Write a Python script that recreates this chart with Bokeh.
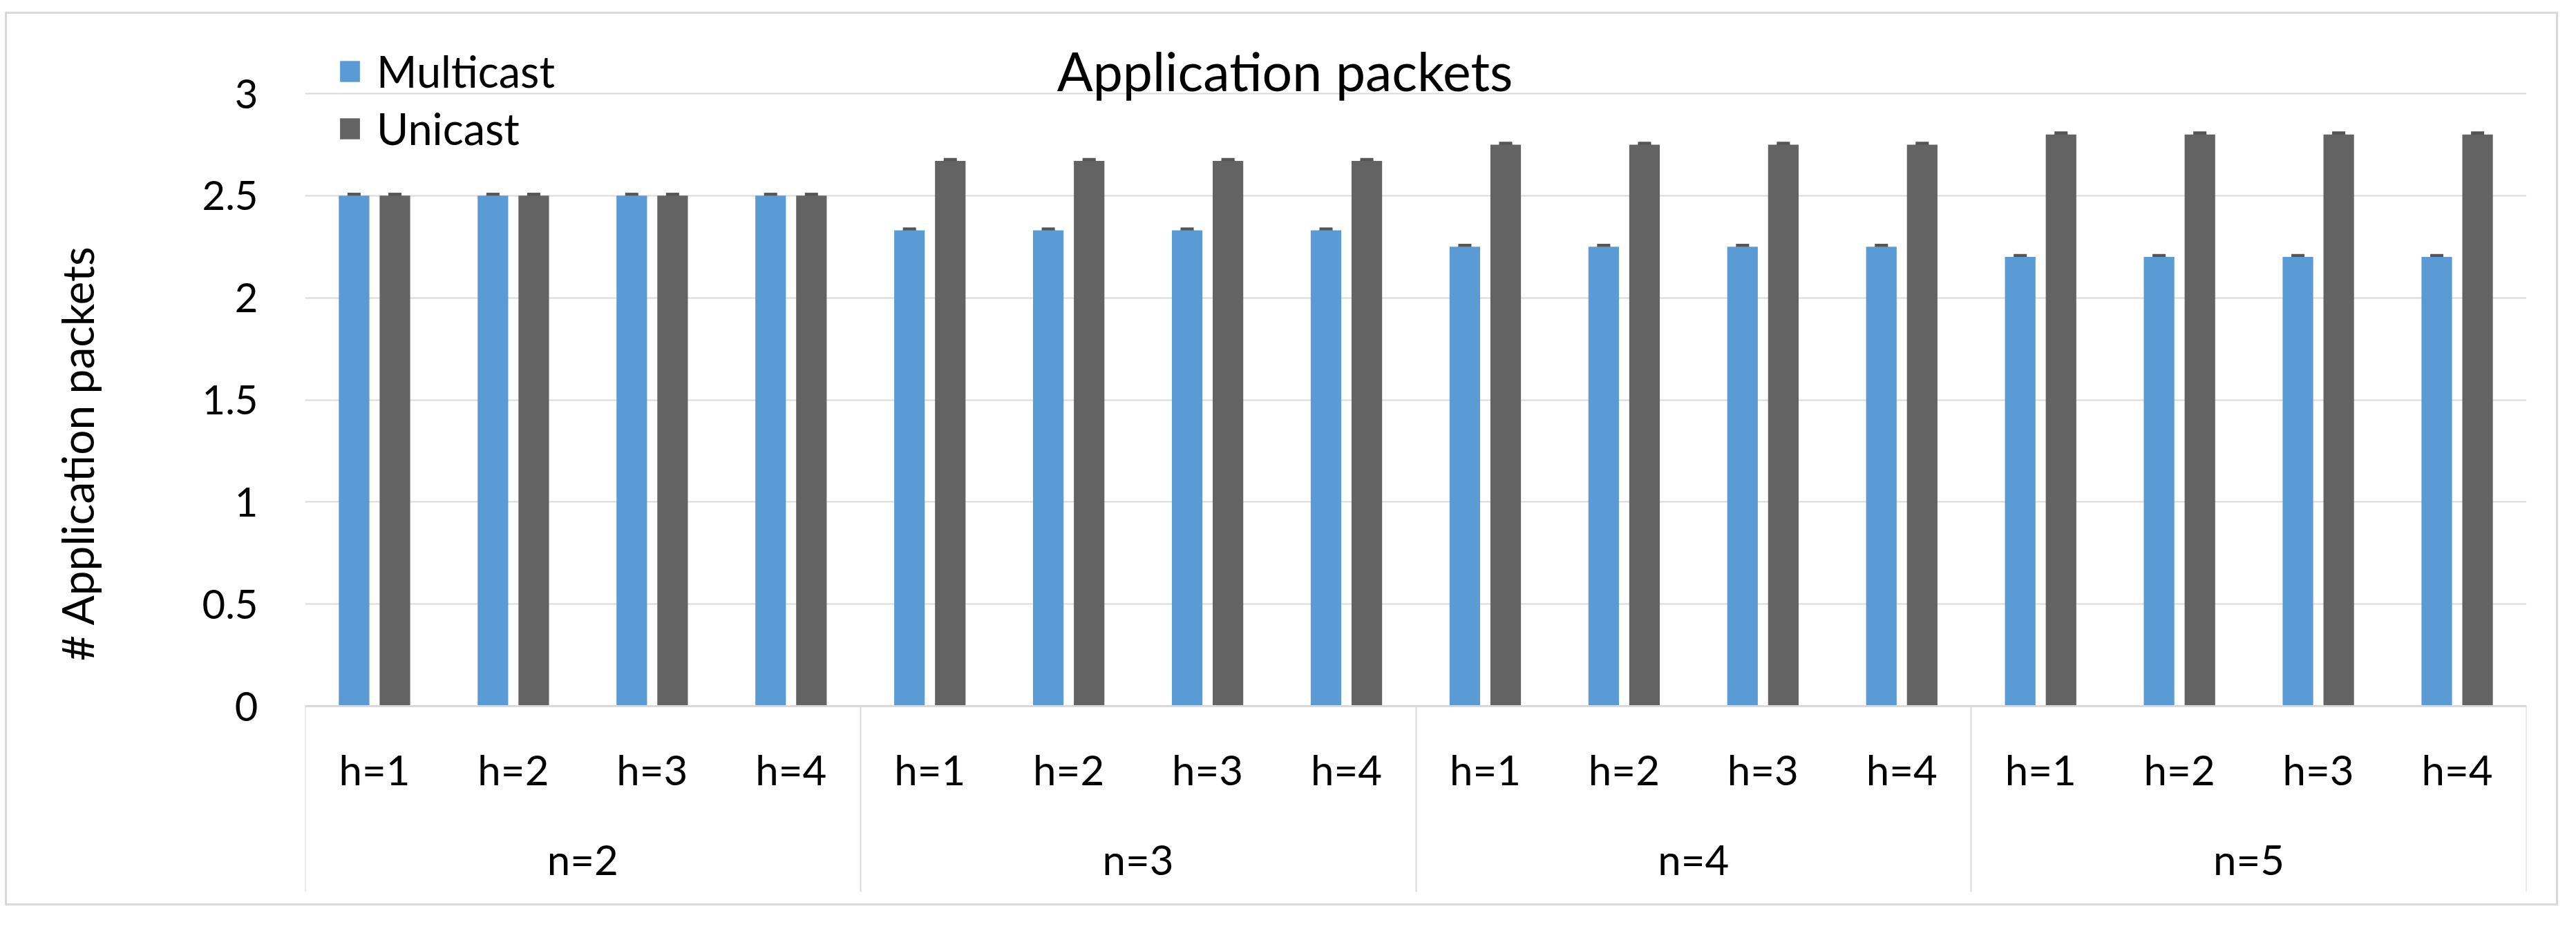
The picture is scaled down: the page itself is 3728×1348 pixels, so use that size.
from bokeh.plotting import figure
from bokeh.models import (ColumnDataSource, FactorRange, Legend, LegendItem, Label,
                          FixedTicker, NumeralTickFormatter, Whisker, TeeHead,
                          LinearAxis)
from bokeh.transform import dodge
from bokeh.embed import file_html
from bokeh.resources import INLINE

# ---- data ----
groups = ["n=2", "n=3", "n=4", "n=5"]
hops = ["h=1", "h=2", "h=3", "h=4"]
multicast = [2.50, 2.50, 2.50, 2.50,
             2.33, 2.33, 2.33, 2.33,
             2.25, 2.25, 2.25, 2.25,
             2.20, 2.20, 2.20, 2.20]
unicast = [2.50, 2.50, 2.50, 2.50,
           2.67, 2.67, 2.67, 2.67,
           2.75, 2.75, 2.75, 2.75,
           2.80, 2.80, 2.80, 2.80]
multicast_err = [0.006, 0.006, 0.006, 0.006, 0.006, 0.006, 0.006, 0.006,
                 0.006, 0.006, 0.006, 0.006, 0.006, 0.006, 0.006, 0.006]
unicast_err = [0.006, 0.006, 0.006, 0.006, 0.006, 0.006, 0.006, 0.006,
               0.006, 0.006, 0.006, 0.006, 0.006, 0.006, 0.006, 0.006]
y_ticks = [0, 0.5, 1, 1.5, 2, 2.5, 3]
title_text = "Application packets"
y_title = "# Application packets"
series_names = ["Multicast", "Unicast"]
colors = ["#5B9BD5", "#636363"]

FONT = "Lato"
GRID = "#D9D9D9"

factors = [(g, h) for g in groups for h in hops]
group_bounds = [i * len(hops) for i in range(len(groups) + 1)]

src = ColumnDataSource(dict(
    x=factors,
    multicast=multicast,
    unicast=unicast,
    m_up=[v + e for v, e in zip(multicast, multicast_err)],
    m_lo=[v - e for v, e in zip(multicast, multicast_err)],
    u_up=[v + e for v, e in zip(unicast, unicast_err)],
    u_lo=[v - e for v, e in zip(unicast, unicast_err)],
))

x_range = FactorRange(factors=factors, range_padding=0, group_padding=0,
                      subgroup_padding=0, factor_padding=0)

# the plot area continues below zero so that the category axis (fixed at y=0)
# with its group labels and dividers sits inside it, as in the reference
p = figure(x_range=x_range, y_range=(-0.9098, 3.389),
           frame_width=3215, frame_height=1271,
           min_border_left=431, min_border_right=43,
           min_border_top=0, min_border_bottom=17,
           output_backend="svg", toolbar_location=None)
p.styles = {"border": "3px solid #D9D9D9", "margin-top": "17px", "margin-left": "7px"}
p.outline_line_color = None
p.background_fill_color = "white"
p.border_fill_color = "white"

OFF = 0.147
W = 0.22
r1 = p.vbar(x=dodge("x", -OFF, range=p.x_range), top="multicast", width=W,
            source=src, fill_color=colors[0], line_color=None)
r2 = p.vbar(x=dodge("x", OFF, range=p.x_range), top="unicast", width=W,
            source=src, fill_color=colors[1], line_color=None)

for dx, up, lo in [(-OFF, "m_up", "m_lo"), (OFF, "u_up", "u_lo")]:
    wk = Whisker(source=src, base=dodge("x", dx, range=p.x_range), upper=up, lower=lo,
                 line_color="#555555", line_width=5,
                 upper_head=TeeHead(size=19, line_color="#555555", line_width=5),
                 lower_head=TeeHead(size=19, line_color="#555555", line_width=5))
    p.add_layout(wk)

# y axis
p.yaxis.ticker = FixedTicker(ticks=y_ticks)
p.yaxis.formatter = NumeralTickFormatter(format="0.[0]")
p.yaxis.axis_line_color = None
p.yaxis.major_tick_line_color = None
p.yaxis.minor_tick_line_color = None
p.yaxis.major_tick_out = 0
p.yaxis.major_label_standoff = 68
p.yaxis.major_label_text_font = FONT
p.yaxis.major_label_text_font_size = "58px"
p.yaxis.major_label_text_color = "black"
p.yaxis.axis_label = y_title
p.yaxis.axis_label_text_font = FONT
p.yaxis.axis_label_text_font_size = "64px"
p.yaxis.axis_label_text_font_style = "normal"
p.yaxis.axis_label_text_color = "black"
p.yaxis.axis_label_standoff = 140

p.ygrid.grid_line_color = GRID
p.ygrid.grid_line_width = 2
p.xgrid.grid_line_color = None

# x axis (categories), drawn at y = 0
xa = p.xaxis[0]
xa.fixed_location = 0
xa.axis_line_color = GRID
xa.axis_line_width = 3
xa.major_tick_line_color = None
xa.major_tick_out = 0
xa.minor_tick_line_color = None
xa.major_label_standoff = 55
xa.major_label_text_font = FONT
xa.major_label_text_font_size = "60px"
xa.major_label_text_color = "black"
xa.major_label_orientation = "horizontal"
xa.group_text_font = FONT
xa.group_text_font_size = "60px"
xa.group_text_font_style = "normal"
xa.group_text_color = "black"
xa.group_label_orientation = "horizontal"
xa.separator_line_color = None

# group divider lines (ticks at the group boundaries, incl. both ends)
div_axis = LinearAxis(ticker=FixedTicker(ticks=group_bounds), fixed_location=0,
                      axis_line_color=None,
                      major_tick_line_color=GRID, major_tick_line_width=2,
                      major_tick_in=0, major_tick_out=269,
                      minor_tick_line_color=None, minor_tick_out=0,
                      major_label_text_color=None)
p.add_layout(div_axis, "below")

# legend
legend = Legend(items=[LegendItem(label=series_names[0], renderers=[r1]),
                       LegendItem(label=series_names[1], renderers=[r2])],
                location=(47, 1068), orientation="vertical",
                padding=0, margin=0, spacing=8,
                glyph_width=36, glyph_height=38, label_standoff=21,
                label_text_font=FONT, label_text_font_size="63px",
                label_text_color="black",
                border_line_color=None, background_fill_alpha=0)
p.add_layout(legend)

title = Label(x=1418, y=1190, x_units="screen", y_units="screen", text=title_text,
              text_align="center", text_baseline="middle",
              text_font=FONT, text_font_size="77px", text_color="black")
p.add_layout(title)

open("out.html", "w").write(file_html(p, INLINE))
